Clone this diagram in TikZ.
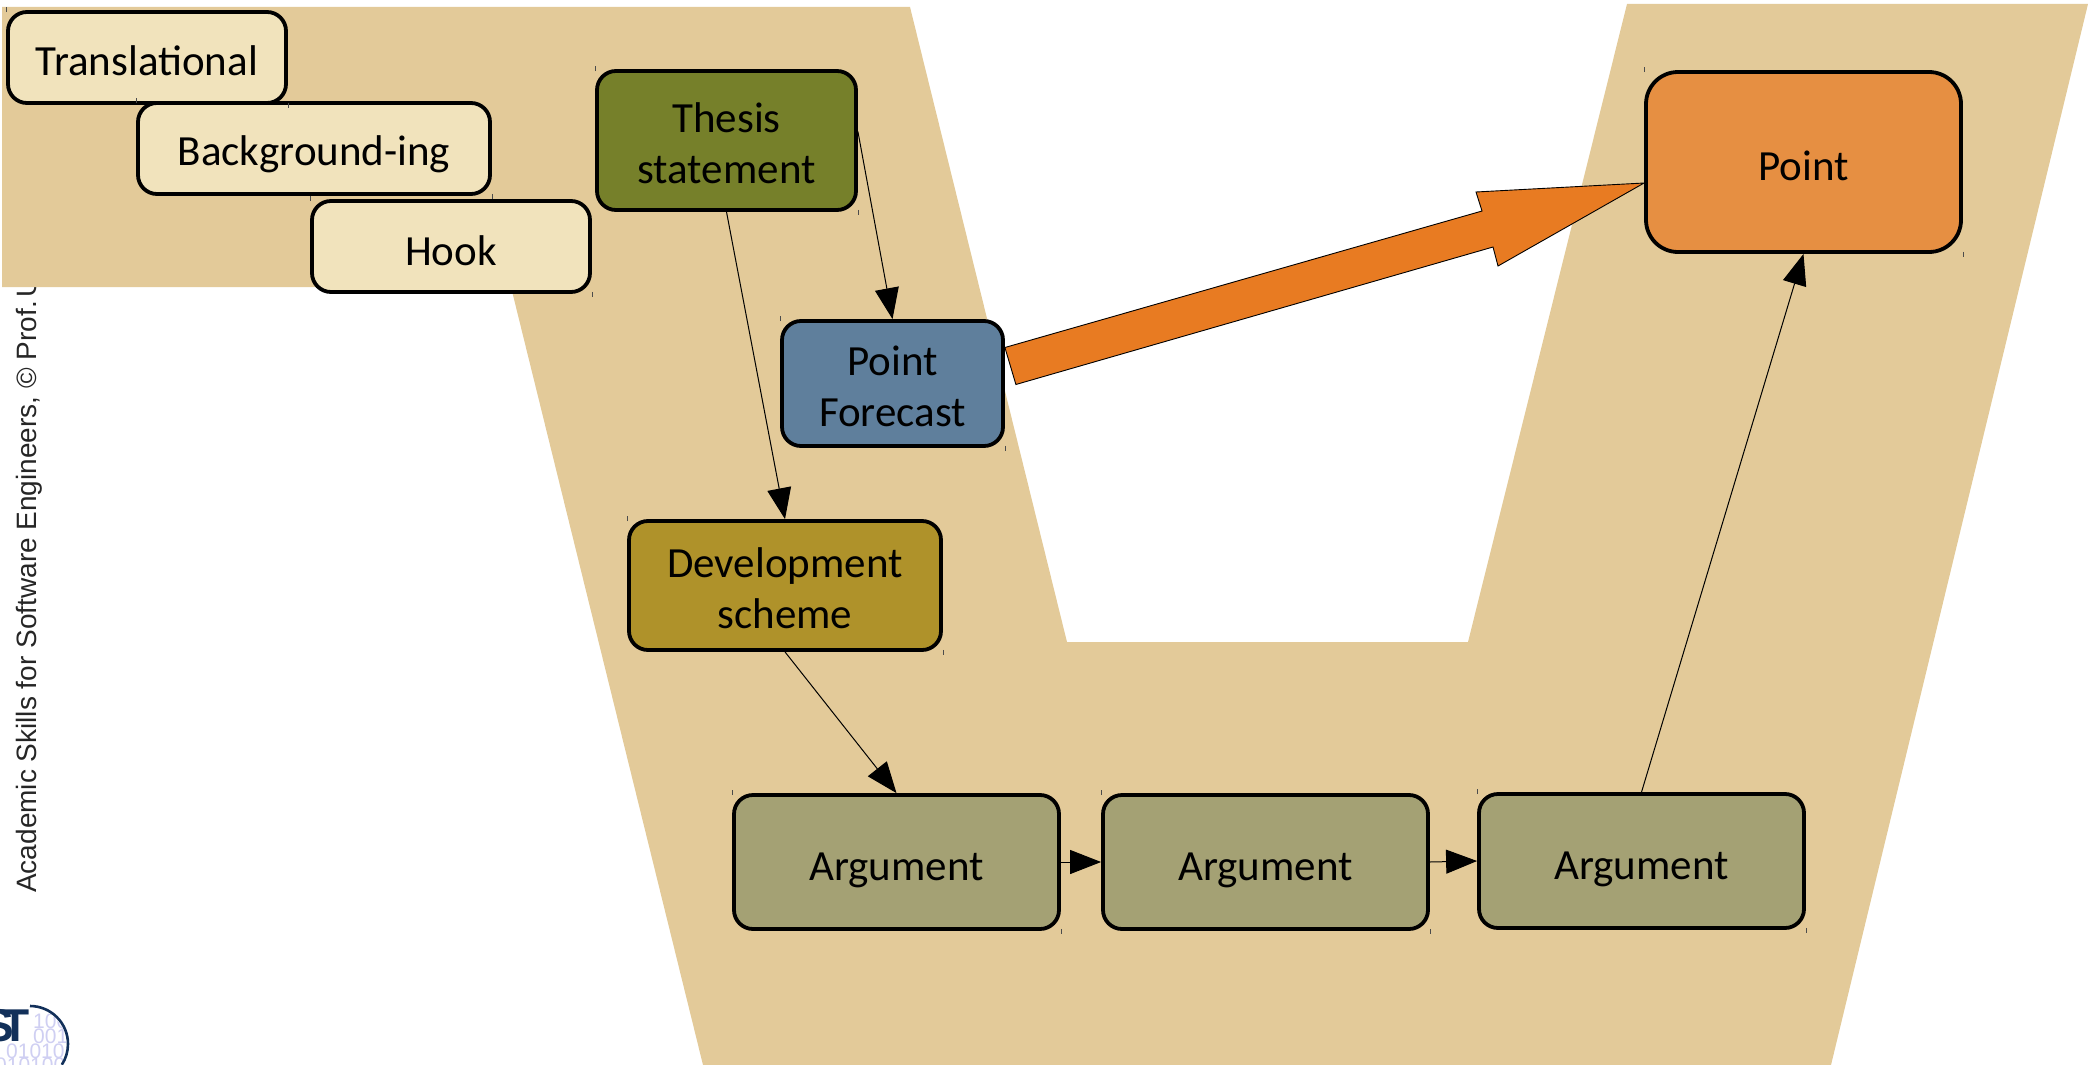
\documentclass[tikz,border=0pt]{standalone}
\usepackage{fontspec}
\setmainfont{Carlito}
\newfontfamily\sidefont{Liberation Sans}
\usetikzlibrary{arrows.meta,calc}
\definecolor{bandc}{HTML}{E3CA99}
\definecolor{introc}{HTML}{F1E3BC}
\definecolor{thesisc}{HTML}{76802A}
\definecolor{forecastc}{HTML}{5F7F9C}
\definecolor{devc}{HTML}{AF922A}
\definecolor{argc}{HTML}{A4A174}
\definecolor{pointc}{HTML}{E68F42}
\definecolor{bigc}{HTML}{E87B22}
\definecolor{navyc}{HTML}{12305A}
\definecolor{digitc}{HTML}{CFCFF2}
\tikzset{
  x=1pt,y=-1pt,
  boxst/.style={draw=black,line width=3.8pt,rounded corners=19pt,inner sep=0pt,align=center,
    font=\fontsize{43}{51}\selectfont,text=black},
  conn/.style={draw=black,line width=1pt,-{Triangle[length=31pt,width=24pt]}},
  tickm/.style={draw=black!70,line width=0.7pt},
  digits/.style={text=digitc,inner sep=0pt,font=\sidefont\fontsize{21}{21}\selectfont},
}
\newcommand{\dn}[2]{\raisebox{-#1pt}[\height][\depth]{#2}}
\begin{document}
\begin{tikzpicture}
\useasboundingbox (0,0) rectangle (2088,1065);
% side text, partly covered by the band
\node[rotate=90,anchor=west,inner sep=0pt,font=\sidefont\fontsize{28}{28}\selectfont,text=black!85] (side) at (29,893)
  {Academic Skills for Software Engineers, © Prof.\hspace{4pt}U};
% band
\path[fill=bandc] (2,7) -- (910,7) -- (1067,642) -- (1468,642) -- (1627,4) -- (2088,4)
  -- (1831,1065) -- (703,1065) -- (511,287) -- (2,287) -- cycle;
% logo
\begin{scope}
\clip (30,1044) circle[radius=36pt];
\node[digits,anchor=west] (d1) at (33,1021) {100};
\node[digits,anchor=west] (d2) at (33,1036) {001};
\node[digits,anchor=west] (d3) at (6,1051) {01010};
\node[digits,anchor=west] (d4) at (-5,1065) {010100};
\end{scope}
\node[anchor=east,inner sep=0pt,text=navyc,font=\sidefont\bfseries\fontsize{46}{46}\selectfont] (s) at (14,1026) {S};
\node[anchor=east,inner sep=0pt,text=navyc,font=\sidefont\bfseries\fontsize{46}{46}\selectfont] (t) at (30,1026) {T};
\draw[navyc,line width=2.6pt] (30,1006) arc[start angle=90,end angle=-33,radius=38pt];
% boxes
\node[boxst,fill=introc,minimum width=278pt,minimum height=91pt] (tr) at (147,57.5) {\dn{3}{Translational}};
\node[boxst,fill=introc,minimum width=352pt,minimum height=91pt] (bg) at (314,148.5) {\dn{6}{Background-ing}};
\node[boxst,fill=introc,minimum width=278pt,minimum height=91pt] (hk) at (451,246.5) {\dn{4}{Hook}};
\node[boxst,fill=thesisc,minimum width=259pt,minimum height=139pt] (th) at (726.5,140.5) {\dn{3}{Thesis}\\\dn{3}{statement}};
\node[boxst,fill=forecastc,minimum width=221pt,minimum height=125pt] (fc) at (892.5,383.5) {\dn{3}{Point}\\\dn{3}{Forecast}};
\node[boxst,fill=devc,minimum width=312pt,minimum height=129pt] (dv) at (785,585.5) {\dn{3}{Development}\\\dn{3}{scheme}};
\node[boxst,fill=argc,minimum width=325pt,minimum height=134pt] (a1) at (896.5,862) {\dn{8}{Argument}};
\node[boxst,fill=argc,minimum width=325pt,minimum height=134pt] (a2) at (1265.5,862) {\dn{8}{Argument}};
\node[boxst,fill=argc,minimum width=325pt,minimum height=134pt] (a3) at (1641.5,861) {\dn{8}{Argument}};
\node[boxst,fill=pointc,minimum width=315pt,minimum height=180pt,rounded corners=32pt] (pt) at (1803.5,162) {\dn{4}{Point}};
% corner ticks
\foreach \n in {tr,bg,hk,th,fc,dv,a1,a2,a3,pt}{
  \draw[tickm] ([yshift=-2pt]\n.north west) -- ([yshift=3pt]\n.north west);
  \draw[tickm] ([yshift=2pt]\n.south east) -- ([yshift=-3pt]\n.south east);
}
% connectors
\draw[conn] ([yshift=9pt]th.east) -- (fc.north);
\draw[conn] (th.south) -- (dv.north);
\draw[conn] (dv.south) -- (a1.north);
\draw[conn] (a1.east) -- (a2.west);
\draw[conn] (a2.east) -- (a3.west);
\draw[conn] (a3.north) -- (pt.south);
% big arrow
\coordinate (tip) at ($(pt.west)+(0,21)$);
\coordinate (tailA) at ($(fc.east)+(0,-36)$);
\coordinate (tailB) at ($(fc.east)+(11,1)$);
\draw[fill=bigc,draw=black,line width=0.9pt,line join=miter]
  (tailA) -- (1482,211) -- (1476,192) -- (tip) -- (1498,266) -- (1493,247) -- (tailB) -- cycle;
\end{tikzpicture}
\end{document}
